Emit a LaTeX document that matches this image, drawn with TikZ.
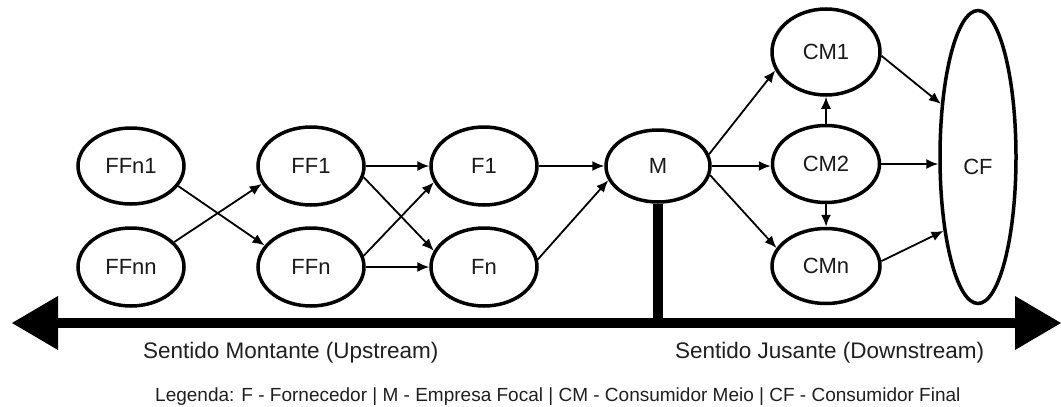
\documentclass[tikz,border=0pt]{standalone}
\usepackage{fontspec}
\setmainfont{Liberation Sans}
\usetikzlibrary{shapes.geometric,arrows.meta}

\begin{document}
\begin{tikzpicture}[x=1pt,y=-1pt,
  actor/.style 2 args={ellipse, draw, line width=3.5pt, inner sep=0pt,
    minimum width=#1pt, minimum height=#2pt,
    font=\fontsize{22}{26}\selectfont, text=black!90},
  flow/.style={line width=1.8pt, -{Latex[length=12pt,width=10pt]}},
  axis/.style={line width=10pt},
  caption/.style={font=\fontsize{22.5}{27}\selectfont, text=black!88, inner sep=0pt},
  legend/.style={font=\fontsize{19}{23}\selectfont, text=black!88, inner sep=0pt}
]
\useasboundingbox (0,0) rectangle (1061,407);

% supplier tiers
\node[actor={106}{76}] (FFn1) at (131,166) {FFn1};
\node[actor={106}{78}] (FFnn) at (131,267) {FFnn};
\node[actor={106}{78}] (FF1)  at (311,166) {FF1};
\node[actor={106}{78}] (FFn)  at (311,267) {FFn};
\node[actor={106}{78}] (F1)   at (484,166) {F1};
\node[actor={106}{78}] (Fn)   at (484,267) {Fn};

% focal company
\node[actor={104}{72}] (M) at (658,166) {M};

% intermediate and final consumers
\node[actor={108}{86}] (CM1) at (826,52)  {CM1};
\node[actor={107}{77}] (CM2) at (826,164) {CM2};
\node[actor={108}{75}] (CMn) at (826,266) {CMn};
\node[actor={76}{293}] (CF)  at (978,157) {};
\node[font=\fontsize{22}{26}\selectfont, text=black!90] (CFlabel) at (978,167) {CF};

% upstream flows
\draw[flow] (FFn1.-23) -- (FFn.155);
\draw[flow] (FFnn.30)  -- (FF1.200);
\draw[flow] (FF1.east) -- (F1.west);
\draw[flow] (FF1.-12)  -- (Fn.162);
\draw[flow] (FFn.12)   -- (F1.198);
\draw[flow] (FFn.east) -- (Fn.west);
\draw[flow] (F1.east)  -- (M.west);
\draw[flow] (Fn.8)     -- (M.196);

% downstream flows
\draw[flow] (M.13)   -- (CM1.200);
\draw[flow] (M.east) -- (M.east -| CM2.west);
\draw[flow] (M.-10)  -- (CMn.160);
\draw[flow] (CM2.north) -- (CM1.south);
\draw[flow] (CM2.south) -- (CMn.north);
\draw[flow] (CM1.-4)   -- (CF.125);
\draw[flow] (CM2.east) -- (CM2.east -| CF.west);
\draw[flow] (CMn.5)    -- (CF.245);

% direction axis
\coordinate (axL) at (58,323);
\coordinate (axR) at (1015,323);
\draw[axis] (axL) -- (axR);
\fill (12,323) -- (58,296) -- (58,350) -- cycle;
\fill (1061,323) -- (1015,296) -- (1015,350) -- cycle;
\draw[axis] (M.south) -- (M.south |- axL);

% captions
\node[caption, anchor=base west] (up)   at (143,358) {Sentido Montante (Upstream)};
\node[caption, anchor=base west] (down) at (675,358) {Sentido Jusante (Downstream)};
\node[legend, anchor=base west] (leg) at (155,401)
  {Legenda: F - Fornecedor | M - Empresa Focal | CM - Consumidor Meio | CF - Consumidor Final};
\end{tikzpicture}
\end{document}
